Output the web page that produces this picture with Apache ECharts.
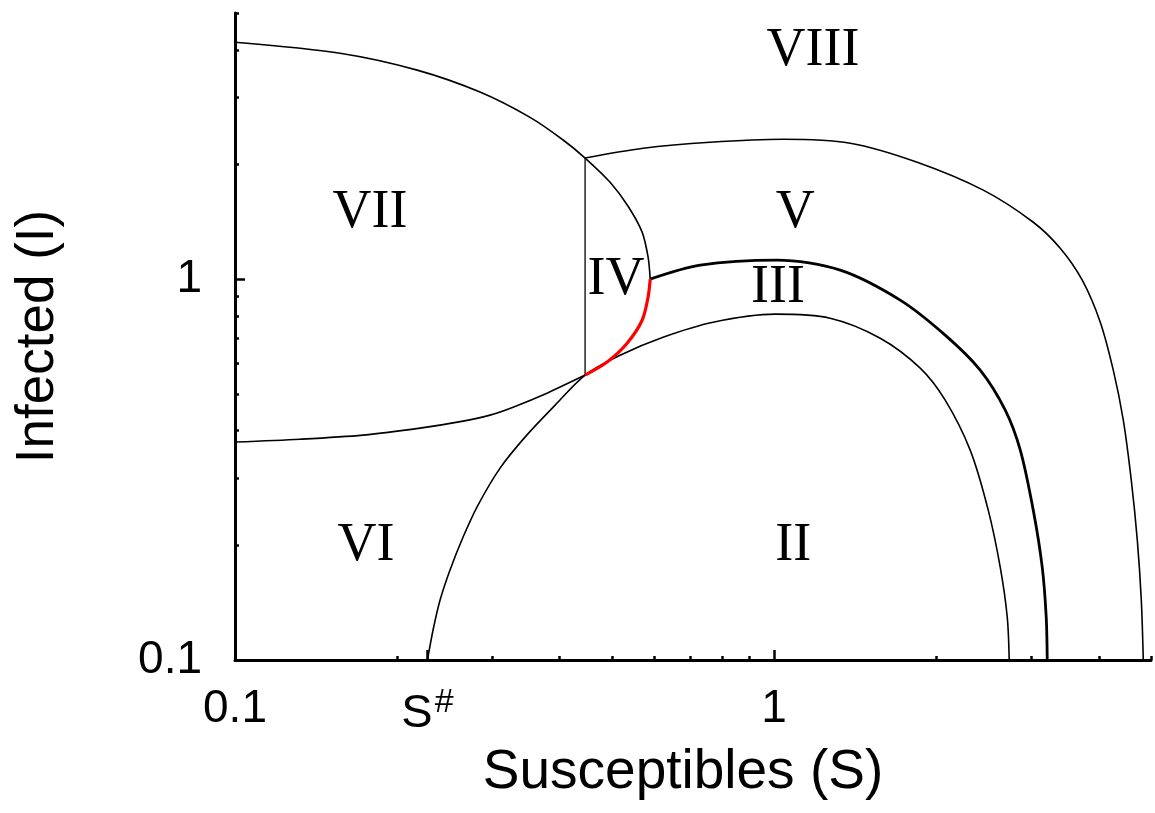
<!DOCTYPE html>
<html>
<head>
<meta charset="utf-8">
<script src="https://cdn.jsdelivr.net/npm/echarts@6/dist/echarts.min.js"></script>
<style>
  html, body { margin: 0; padding: 0; background: #fff; }
  #chart { width: 1155px; height: 813px; }
</style>
</head>
<body>
<div id="chart"></div>
<script>
// Phase regions of the (S, I) plane, both axes logarithmic.
const S_SHARP = 0.2275;

// VII / VIII boundary, bending round into the nose of region IV
const upperLeftBoundary = [[0.1, 4.19], [0.1566, 3.92], [0.2177, 3.54], [0.2847, 3.10], [0.3526, 2.66],
  [0.4061, 2.32], [0.446, 2.08], [0.4963, 1.797], [0.5359, 1.554], [0.569, 1.329], [0.5837, 1.142], [0.589, 1.0]];
// lower side of the nose, down to where it touches the inner arc
const redBoundary = [[0.589, 1.0], [0.5837, 0.897], [0.569, 0.78], [0.5337, 0.679], [0.49, 0.606], [0.446, 0.56]];
// VII / VI boundary
const lowerLeftBoundary = [[0.1, 0.3735], [0.132, 0.38], [0.1728, 0.3896], [0.2204, 0.4063], [0.2649, 0.4239],
  [0.2972, 0.4396], [0.328, 0.4613], [0.379, 0.502], [0.446, 0.56]];
// II / III boundary, leaving the S axis at S#
const innerArc = [[S_SHARP, 0.1], [0.233, 0.1199], [0.2401, 0.1437], [0.2505, 0.1723], [0.2649, 0.2103],
  [0.2823, 0.2551], [0.3102, 0.3191], [0.3451, 0.3848], [0.3925, 0.4669], [0.446, 0.56], [0.5179, 0.6316],
  [0.6222, 0.7042], [0.7706, 0.7711], [1.004, 0.8093], [1.27, 0.79], [1.573, 0.6999], [1.866, 0.584],
  [2.076, 0.4813], [2.31, 0.3557], [2.495, 0.2475], [2.626, 0.1754], [2.706, 0.1297], [2.729, 0.1]];
// III / V boundary
const middleArc = [[0.589, 1.0], [0.7292, 1.088], [1.013, 1.122], [1.326, 1.056], [1.713, 0.881], [2.076, 0.7129],
  [2.411, 0.577], [2.683, 0.453], [2.861, 0.3557], [3.024, 0.2475], [3.142, 0.1754], [3.196, 0.1297], [3.21, 0.1]];
// V / VIII boundary
const outerArc = [[0.446, 2.08], [0.5715, 2.207], [0.7607, 2.289], [1.039, 2.331], [1.384, 2.275], [1.842, 2.028],
  [2.443, 1.713], [3.024, 1.411], [3.393, 1.206], [3.728, 0.994], [4.026, 0.7711], [4.256, 0.577], [4.442, 0.4266],
  [4.596, 0.2968], [4.716, 0.2065], [4.797, 0.1437], [4.838, 0.1]];
// IV / VII separator at constant S
const separatrix = [[0.446, 0.56], [0.446, 2.08]];

// region names and the points they are centred on
const regionNames = ['VIII', 'VII', 'V', 'IV', 'III', 'II', 'VI'];
const regionS = [1.18, 0.178, 1.094, 0.509, 1.017, 1.085, 0.175];
const regionI = [3.99, 1.49, 1.49, 0.994, 0.947, 0.2, 0.2];

// axis ranges and ticks
const S_MIN = 0.1, S_MAX = 5;
const I_MIN = 0.1, I_MAX = 5;
const xLabelValues = [0.1, S_SHARP, 1];
const xMajorTicks = [S_SHARP, 1];
const xMinorTicks = [0.2, 0.3, 0.4, 0.5, 0.6, 0.7, 0.8, 0.9, 2, 3, 4, 5];
const yLabelValues = [0.1, 1];
const yMajorTicks = [1];
const yMinorTicks = [0.2, 0.3, 0.4, 0.5, 0.6, 0.7, 0.8, 0.9, 2, 3, 4, 5];

const SANS = "'Liberation Sans', Arial, Helvetica, sans-serif";
const SERIF = "'Liberation Serif', 'Times New Roman', serif";
const INK = '#000';

const chart = echarts.init(document.getElementById('chart'), null, { renderer: 'canvas' });

function xLabel(v) {
  if (Math.abs(v - S_SHARP) < 1e-3) return '{s|S}{sup|#}';
  return String(v);
}

function curve(data, width, color, z) {
  return {
    type: 'line', data: data, xAxisIndex: 0, yAxisIndex: 0,
    showSymbol: false, symbol: 'none', smooth: 0.3, silent: true, z: z || 2,
    lineStyle: { color: color || INK, width: width }
  };
}

const tickLabelStyle = { color: INK, fontFamily: SANS, fontSize: 46 };

chart.setOption({
  animation: false,
  backgroundColor: '#fff',
  grid: { left: 235, right: 4, top: 13, bottom: 153, containLabel: false },
  xAxis: [
    {
      type: 'log', logBase: 10, min: S_MIN, max: S_MAX, position: 'bottom',
      name: 'Susceptibles (S)', nameLocation: 'middle', nameGap: 85,
      nameTextStyle: { color: INK, fontFamily: SANS, fontSize: 55, padding: [0, 20, 0, 0] },
      axisLine: { lineStyle: { color: INK, width: 3 } },
      axisTick: { inside: true, length: 10, customValues: xMajorTicks, lineStyle: { color: INK, width: 2.5 } },
      axisLabel: Object.assign({
        customValues: xLabelValues, margin: 26, formatter: xLabel,
        rich: {
          s: { fontFamily: SANS, fontSize: 47, lineHeight: 56, color: INK },
          sup: { fontFamily: SANS, fontSize: 34, lineHeight: 2, color: INK, verticalAlign: 'top', padding: [0, 0, 0, 2] }
        }
      }, tickLabelStyle),
      splitLine: { show: false }, minorTick: { show: false }
    },
    {
      type: 'log', logBase: 10, min: S_MIN, max: S_MAX, position: 'bottom', offset: 0,
      axisLine: { show: false },
      axisTick: { inside: true, length: 4, customValues: xMinorTicks, lineStyle: { color: INK, width: 2.5 } },
      axisLabel: { show: false }, splitLine: { show: false }
    }
  ],
  yAxis: [
    {
      type: 'log', logBase: 10, min: I_MIN, max: I_MAX, position: 'left',
      name: 'Infected (I)', nameLocation: 'middle', nameGap: 170, nameRotate: 90,
      nameTextStyle: { color: INK, fontFamily: SANS, fontSize: 53 },
      axisLine: { lineStyle: { color: INK, width: 3 } },
      axisTick: { inside: true, length: 10, customValues: yMajorTicks, lineStyle: { color: INK, width: 2.5 } },
      axisLabel: Object.assign({ customValues: yLabelValues, margin: 33, formatter: v => String(v) }, tickLabelStyle),
      splitLine: { show: false }, minorTick: { show: false }
    },
    {
      type: 'log', logBase: 10, min: I_MIN, max: I_MAX, position: 'left', offset: 0,
      axisLine: { show: false },
      axisTick: { inside: true, length: 4, customValues: yMinorTicks, lineStyle: { color: INK, width: 2.5 } },
      axisLabel: { show: false }, splitLine: { show: false }
    }
  ],
  series: [
    curve(upperLeftBoundary, 1.6),
    curve(lowerLeftBoundary, 1.6),
    curve(innerArc, 1.6),
    curve(middleArc, 2.8),
    curve(outerArc, 1.6),
    Object.assign(curve(separatrix, 1.3), { smooth: false }),
    curve(redBoundary, 3.2, '#ff0000', 5),
    {
      type: 'scatter', xAxisIndex: 0, yAxisIndex: 0, silent: true, z: 6,
      symbol: 'circle', symbolSize: 1, itemStyle: { color: 'rgba(0,0,0,0)', opacity: 1 },
      data: regionNames.map((n, i) => ({ name: n, value: [regionS[i], regionI[i]] })),
      label: {
        show: true, position: 'inside', formatter: '{b}', opacity: 1,
        color: INK, fontFamily: SERIF, fontSize: 54, textBorderWidth: 0
      }
    }
  ]
});
</script>
</body>
</html>
